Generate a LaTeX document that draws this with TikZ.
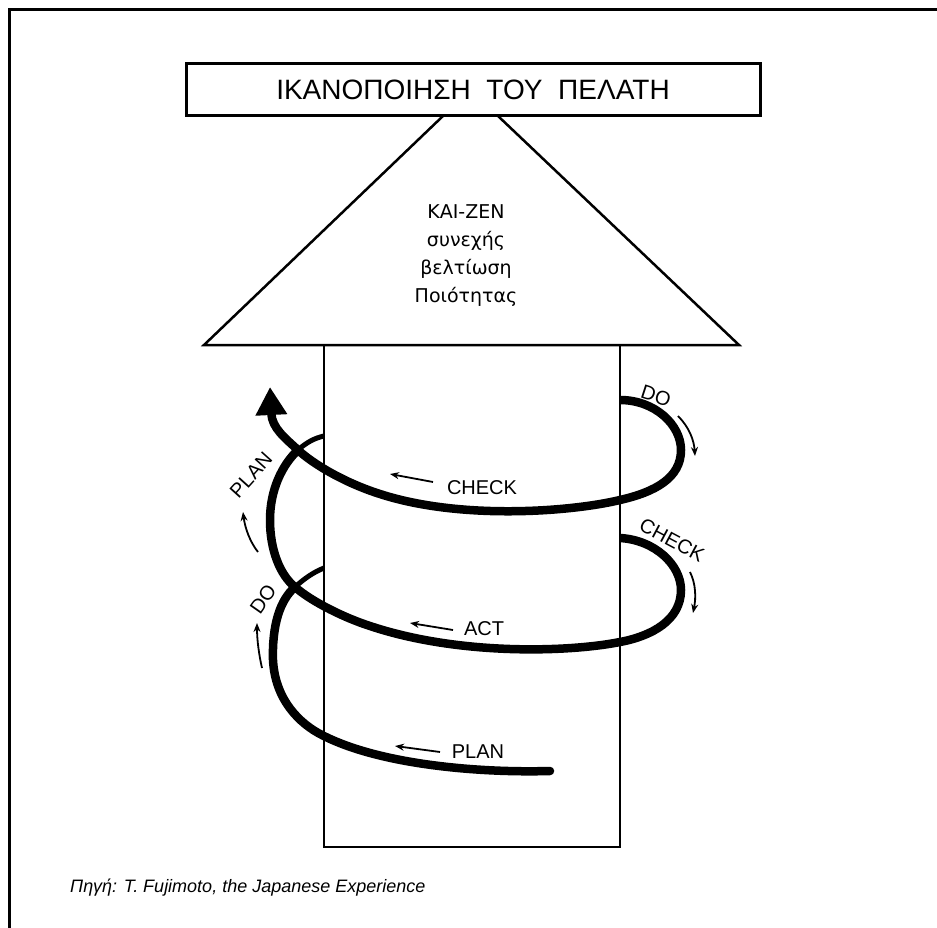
\documentclass[tikz,border=0pt]{standalone}
\usepackage{fontspec}
\setmainfont{Liberation Sans}
\newfontfamily\dejavu{DejaVu Sans}
\usetikzlibrary{arrows.meta}
\begin{document}
\begin{tikzpicture}[x=1pt,y=-1pt,
  frameline/.style={line width=3pt},
  edgeline/.style={line width=2.5pt},
  spiral/.style={line width=8.5pt},
  stubline/.style={line width=5pt},
  lbl/.style={font=\fontsize{20}{22}\selectfont, inner sep=0pt},
  smallarrow/.style={line width=1.8pt, -{Stealth[length=9pt,width=7pt]}},
]
\useasboundingbox (0,0) rectangle (937,928);
% frame
\draw[frameline] (9,928) -- (9,10) -- (937,10);
% named corners
\coordinate (bl) at (204,345);
\coordinate (br) at (739,345);
\coordinate (al) at (443,116);
\coordinate (ar) at (498,116);
\coordinate (sl) at (324,345);
\coordinate (sr) at (620,345);
\coordinate (sbl) at (324,847);
\coordinate (sbr) at (620,847);
% triangle
\draw[edgeline, line join=miter] (al) -- (bl) -- (br) -- (ar);
% title box
\node[draw, line width=3pt, fill=white, minimum width=574pt, minimum height=52pt, inner sep=0pt,
      font=\fontsize{28}{30}\selectfont] (title) at (473,90) {ΙΚΑΝΟΠΟΙΗΣΗ\ \ ΤΟΥ\ \ ΠΕΛΑΤΗ};
% triangle text
\node[align=center, font=\dejavu\fontsize{19}{28}\selectfont, inner sep=0pt] (kaizen) at (466,256)
  {ΚΑΙ-ΖΕΝ\\συνεχής\\βελτίωση\\Ποιότητας};
% shaft
\draw[edgeline] (sl) -- (sbl) -- (sbr) -- (sr);
% spiral key points
\coordinate (S) at (550,771);
\coordinate (C1) at (295,587);
\coordinate (C2) at (298,450);
\coordinate (tip) at (270,387);
% hidden stubs
\draw[stubline] (C1) .. controls (305,578) and (314,572) .. (324,568);
\draw[stubline] (C2) .. controls (307,442) and (315,438) .. (324,436);
% path A (bottom)
\draw[spiral, line cap=round] (S) .. controls (480,773) and (380,765) .. (322,735)
   .. controls (300,724) and (275,700) .. (273,660)
   .. controls (272,625) and (280,600) .. (C1);
% path B (middle)
\draw[spiral] (620,538) .. controls (655,540) and (681,565) .. (681,590)
   .. controls (681,620) and (652,636) .. (620,642)
   .. controls (570,652) and (460,656) .. (370,626)
   .. controls (345,618) and (312,602) .. (C1)
   .. controls (280,575) and (270,550) .. (270,520)
   .. controls (270,490) and (282,465) .. (C2);
% path C (top, with arrow)
\draw[spiral, -{Triangle[length=28pt,width=30pt]}] (620,400) .. controls (655,400) and (681,425) .. (681,450)
   .. controls (681,478) and (655,492) .. (620,500)
   .. controls (570,512) and (460,520) .. (380,494)
   .. controls (345,483) and (313,464) .. (C2)
   .. controls (285,438) and (272,428) .. (tip);
% labels
\node[lbl, rotate=-18] (doR) at (656,396) {DO};
\node[lbl, rotate=-28] (checkR) at (672,540) {CHECK};
\node[lbl] (checkF) at (482,488) {CHECK};
\node[lbl] (actF) at (484,629) {ACT};
\node[lbl] (planF) at (478,752) {PLAN};
\node[lbl, rotate=48] (planL) at (251,475) {PLAN};
\node[lbl, rotate=55] (doL) at (263,599) {DO};
% small arrows
\draw[smallarrow] (678,416) .. controls (689,427) and (694,440) .. (695,456);
\draw[smallarrow] (690,572) .. controls (696,584) and (696,598) .. (693,613);
\draw[smallarrow] (433,482) -- (390,474);
\draw[smallarrow] (453,630) -- (410,623);
\draw[smallarrow] (440,752) -- (395,746);
\draw[smallarrow] (258,552) .. controls (250,542) and (245,528) .. (243,512);
\draw[smallarrow] (262,668) .. controls (259,655) and (257,640) .. (257,623);
% caption
\node[anchor=west, inner sep=0pt, font=\itshape\fontsize{18}{20}\selectfont] (caption) at (70,888)
  {Πηγή: T. Fujimoto, the Japanese Experience};
\end{tikzpicture}
\end{document}
